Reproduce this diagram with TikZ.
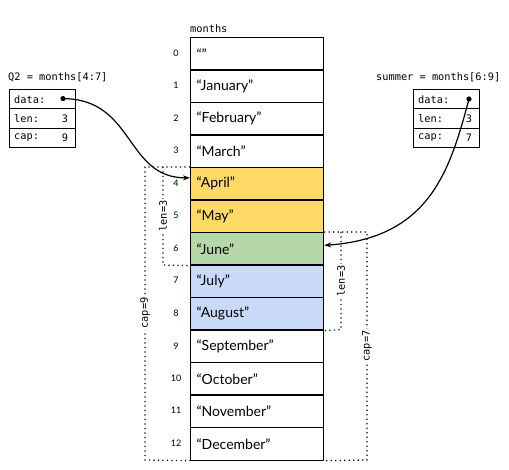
\documentclass[tikz,border=0pt]{standalone}
\usepackage{fontspec}
\setmainfont{Lato}
\setmonofont{DejaVu Sans Mono}
\usetikzlibrary{arrows.meta}
\definecolor{cyel}{HTML}{FFD966}
\definecolor{cgrn}{HTML}{B6D7A8}
\definecolor{cblu}{HTML}{C9DAF8}
\begin{document}
\begin{tikzpicture}[x=1pt,y=-1pt,
  cell/.style={draw=black,line width=1.2pt,minimum width=133pt,minimum height=32.5pt,
    text width=121pt,inner sep=6pt,align=left,anchor=north west,font=\fontsize{14}{15}\selectfont},
  idx/.style={font=\fontsize{9}{10}\selectfont,inner sep=0pt},
  code/.style={font=\fontsize{10.3}{11}\ttfamily\selectfont,inner sep=0pt},
  sbox/.style={draw=black,line width=1.2pt,minimum width=66pt,minimum height=19.3pt,anchor=north west,inner sep=0pt},
  dots/.style={line width=1.3pt,dash pattern=on 1.2pt off 3.3pt},
  dlab/.style={code,rotate=90,fill=white,inner sep=1.5pt},
  ptr/.style={line width=1.2pt,-{Stealth[length=7pt,width=5pt]}}
]
\useasboundingbox (0,0) rectangle (509,470);

% array
\node[code,anchor=south west] (mlab) at (190,33) {months};
\foreach \i/\t/\c in {0/{“”}/white,1/{“January”}/white,2/{“February”}/white,3/{“March”}/white,
  4/{“April”}/cyel,5/{“May”}/cyel,6/{“June”}/cgrn,7/{“July”}/cblu,8/{“August”}/cblu,
  9/{“September”}/white,10/{“October”}/white,11/{“November”}/white,12/{“December”}/white}{
  \node[cell,fill=\c] (c\i) at (190,37+32.5*\i) {\t};
  \node[idx] (i\i) at (176,53.25+32.5*\i) {\i};
}

% Q2 struct
\node[code,anchor=south west] (q2lab) at (8,82) {Q2 = months[4:7]};
\node[sbox] (q2d) at (9,89) {};
\node[sbox] (q2l) at (9,108.3) {};
\node[sbox] (q2c) at (9,127.6) {};
\node[code,anchor=west] (q2dt) at ([xshift=5pt]q2d.west) {data:};
\node[code,anchor=west] (q2lt) at ([xshift=5pt]q2l.west) {len:};
\node[code,anchor=west] (q2ct) at ([xshift=5pt]q2c.west) {cap:};
\node[code,anchor=east] (q2lv) at ([xshift=-8pt]q2l.east) {3};
\node[code,anchor=east] (q2cv) at ([xshift=-8pt]q2c.east) {9};
\fill (63,98.6) circle (2.6pt) coordinate (q2dot);

% summer struct
\node[code,anchor=south west] (smlab) at (376,82) {summer = months[6:9]};
\node[sbox] (smd) at (413,89) {};
\node[sbox] (sml) at (413,108.3) {};
\node[sbox] (smc) at (413,127.6) {};
\node[code,anchor=west] (smdt) at ([xshift=5pt]smd.west) {data:};
\node[code,anchor=west] (smlt) at ([xshift=5pt]sml.west) {len:};
\node[code,anchor=west] (smct) at ([xshift=5pt]smc.west) {cap:};
\node[code,anchor=east] (smlv) at ([xshift=-8pt]sml.east) {3};
\node[code,anchor=east] (smcv) at ([xshift=-8pt]smc.east) {7};
\fill (469,99) circle (2.6pt) coordinate (smdot);

% dotted brackets left
\draw[dots] (c4.north west) -- (145,167) -- (145,460) -- (c12.south west);
\draw[dots] (163,167) -- (163,265) -- (c6.south west);
\node[dlab] (lenl) at (163,216) {len=3};
\node[dlab] (capl) at (145,313) {cap=9};

% dotted brackets right
\draw[dots] (c6.north east) -- (367,232) -- (367,460) -- (c12.south east);
\draw[dots] (341,232) -- (341,329.5) -- (c8.south east);
\node[dlab] (lenr) at (341,281) {len=3};
\node[dlab] (capr) at (367,346) {cap=7};

% pointers
\draw[ptr] (q2dot) .. controls (135,99) and (125,178) .. ([yshift=6pt]c4.west);
\draw[ptr] (smdot) .. controls (450,170) and (430,238) .. ([yshift=3.5pt]c6.east);
\end{tikzpicture}
\end{document}
